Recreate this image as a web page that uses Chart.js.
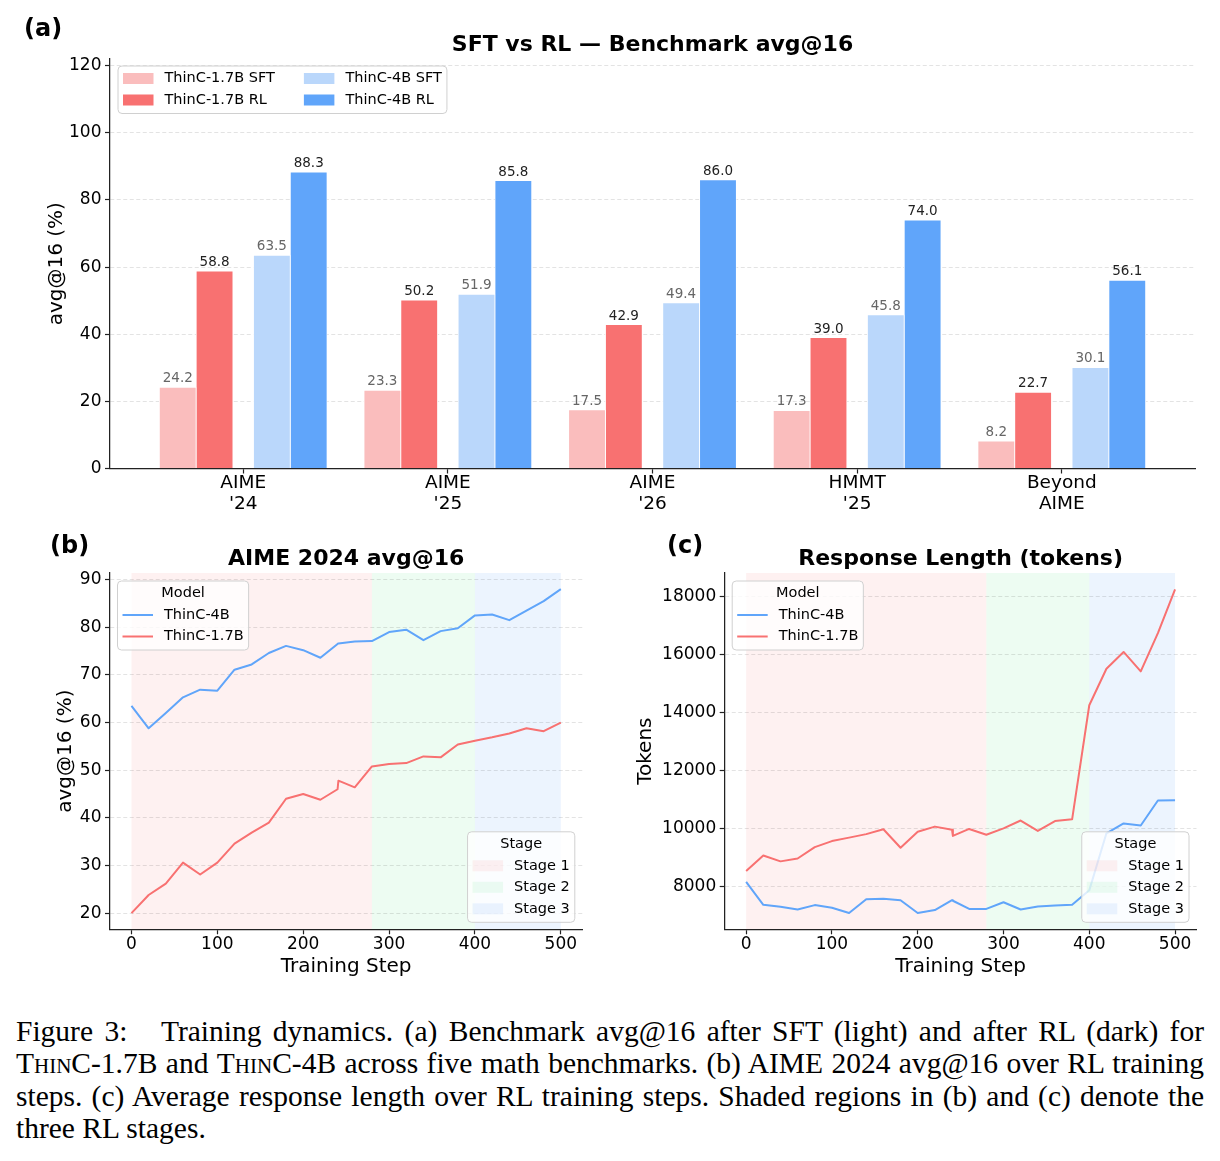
<!DOCTYPE html>
<html>
<head>
<meta charset="utf-8">
<script src="https://cdn.jsdelivr.net/npm/chart.js@4.4.0/dist/chart.umd.min.js"></script>
<style>
  body { margin: 0; background: #fff; }
  #page { position: relative; width: 1220px; height: 1161px; overflow: hidden; background: #fff; }
  canvas { position: absolute; }
  .panel { position: absolute; font: bold 24px "DejaVu Sans"; line-height: 28px; color: #000; }
  #caption {
    position: absolute; left: 16px; top: 1015px; width: 1188px;
    font-family: "Liberation Serif", "Times New Roman", serif;
    font-size: 29.5px; line-height: 32.4px; color: #000;
  }
  #caption .ln { text-align: justify; text-align-last: justify; }
  .sc { font-variant: small-caps; }
</style>
</head>
<body>
<div id="page">
  <canvas id="chartA" width="1220" height="525" style="left:0;top:0"></canvas>
  <canvas id="chartB" width="610" height="460" style="left:0;top:530px"></canvas>
  <canvas id="chartC" width="610" height="460" style="left:610px;top:530px"></canvas>
  <div class="panel" style="left:24px;top:14px">(a)</div>
  <div class="panel" style="left:50px;top:531px">(b)</div>
  <div class="panel" style="left:667px;top:531px">(c)</div>
  <div id="caption">
    <div class="ln">Figure 3:&nbsp;&nbsp; Training dynamics. (a) Benchmark avg@16 after SFT (light) and after RL (dark) for</div>
    <div class="ln"><span class="sc">ThinC</span>-1.7B and <span class="sc">ThinC</span>-4B across five math benchmarks. (b) AIME 2024 avg@16 over RL training</div>
    <div class="ln">steps. (c) Average response length over RL training steps. Shaded regions in (b) and (c) denote the</div>
    <div>three RL stages.</div>
  </div>
</div>
<script>
// (a) benchmark scores after SFT / RL
const benchmarks = [["AIME", "'24"], ["AIME", "'25"], ["AIME", "'26"], ["HMMT", "'25"], ["Beyond", "AIME"]];
const sft17 = [24.2, 23.3, 17.5, 17.3, 8.2];
const rl17 = [58.8, 50.2, 42.9, 39.0, 22.7];
const sft4 = [63.5, 51.9, 49.4, 45.8, 30.1];
const rl4 = [88.3, 85.8, 86.0, 74.0, 56.1];
const scoreTicks = [0, 20, 40, 60, 80, 100, 120];

// (b), (c) RL training curves
const steps = [0, 20, 40, 60, 80, 100, 120, 140, 160, 180, 200, 220, 240, 241, 260, 280, 300, 320, 340, 360, 380, 400, 420, 440, 460, 480, 500];
const aime4b = [63.5, 58.8, 62.0, 65.3, 66.9, 66.7, 71.1, 72.2, 74.6, 76.1, 75.2, 73.6, 76.5, 76.6, 77.0, 77.1, 79.0, 79.5, 77.3, 79.2, 79.8, 82.5, 82.7, 81.5, 83.5, 85.5, 88.0];
const aime17b = [20.0, 23.8, 26.2, 30.6, 28.1, 30.6, 34.6, 36.9, 39.0, 44.0, 45.0, 43.8, 46.0, 47.8, 46.4, 50.8, 51.3, 51.5, 52.9, 52.7, 55.4, 56.2, 56.9, 57.7, 58.8, 58.2, 60.0];
const len4b = [8150, 7360, 7290, 7200, 7350, 7260, 7080, 7550, 7570, 7520, 7080, 7180, 7520, 7500, 7220, 7220, 7450, 7200, 7300, 7340, 7360, 7860, 9830, 10170, 10100, 10960, 10970];
const len17b = [8530, 9065, 8860, 8960, 9350, 9560, 9680, 9800, 9970, 9330, 9880, 10060, 9950, 9740, 9980, 9780, 10000, 10270, 9910, 10250, 10310, 14250, 15510, 16090, 15420, 16740, 18250];
const stepTicks = [0, 100, 200, 300, 400, 500];
const aimeTicks = [20, 30, 40, 50, 60, 70, 80, 90];
const lenTicks = [8000, 10000, 12000, 14000, 16000, 18000];
const stages = ['Stage 1', 'Stage 2', 'Stage 3'];
const stageBounds = [0, 280, 400, 500];

const RED = '#F87171', RED_LIGHT = '#FABDBD', BLUE = '#60A5FA', BLUE_LIGHT = '#BAD7FB';
const stageColors = ['rgba(248,113,113,0.1)', 'rgba(74,222,128,0.1)', 'rgba(96,165,250,0.12)'];
const AXIS = '#222';
const GRID = 'rgba(0,0,0,0.14)';
const LEGEND_FONT = '14.5px "DejaVu Sans"';

Chart.defaults.font.family = '"DejaVu Sans"';
Chart.defaults.color = '#000';

// legend box like matplotlib (drawn inside the axes)
function drawLegendBox(chart, o) {
    const ctx = chart.ctx, area = chart.chartArea;
    const pad = 5, handleW = 30.5, gap = 11, colGap = 29, rowH = 21.5;
    ctx.save();
    ctx.font = LEGEND_FONT;
    const colW = o.columns.map(col => Math.max(...col.map(it => ctx.measureText(it.label).width)));
    let inner = colW.reduce((s, w) => s + handleW + gap + w, 0) + colGap * (colW.length - 1);
    if (o.title) inner = Math.max(inner, ctx.measureText(o.title).width);
    const w = inner + 2 * pad;
    const rows = Math.max(...o.columns.map(c => c.length));
    const head = o.title ? rowH : 0;
    const h = 12.5 + head + (rows - 1) * rowH + 13.5;
    const left = o.corner === 'tl' ? area.left + o.dx : area.right - o.dx - w;
    const top = o.corner === 'tl' ? area.top + o.dy : area.bottom - o.dy - h;

    ctx.beginPath();
    ctx.roundRect(left, top, w, h, 4);
    ctx.fillStyle = 'rgba(255,255,255,0.8)';
    ctx.fill();
    ctx.strokeStyle = '#d0d0d0';
    ctx.lineWidth = 1;
    ctx.stroke();

    ctx.textBaseline = 'middle';
    ctx.fillStyle = '#000';
    if (o.title) {
        ctx.textAlign = 'center';
        ctx.fillText(o.title, left + w / 2, top + 12.5);
    }
    ctx.textAlign = 'left';
    let x = left + pad;
    o.columns.forEach((col, ci) => {
        col.forEach((it, ri) => {
            const y = top + 12.5 + head + ri * rowH;
            if (o.handle === 'line') {
                ctx.strokeStyle = it.color;
                ctx.lineWidth = 2;
                ctx.beginPath();
                ctx.moveTo(x, y);
                ctx.lineTo(x + handleW, y);
                ctx.stroke();
            } else {
                ctx.fillStyle = it.color;
                ctx.fillRect(x, y - 5.5, handleW, 11);
            }
            ctx.fillStyle = '#000';
            ctx.fillText(it.label, x + handleW + gap, y);
        });
        x += handleW + gap + colW[ci] + colGap;
    });
    ctx.restore();
}

// ---------- (a) grouped bars ----------
const barOffsets = [-0.32, -0.14, 0.14, 0.32];
function barSeries(vals, k) {
    return vals.map((v, i) => ({x: i + barOffsets[k], y: v}));
}

const barDatasets = [
    {label: 'ThinC-1.7B SFT', data: barSeries(sft17, 0), backgroundColor: RED_LIGHT, labelColor: '#666'},
    {label: 'ThinC-1.7B RL', data: barSeries(rl17, 1), backgroundColor: RED, labelColor: '#222'},
    {label: 'ThinC-4B SFT', data: barSeries(sft4, 2), backgroundColor: BLUE_LIGHT, labelColor: '#666'},
    {label: 'ThinC-4B RL', data: barSeries(rl4, 3), backgroundColor: BLUE, labelColor: '#222'}
];

const barValueLabels = {
    id: 'barValueLabels',
    afterDatasetsDraw(chart) {
        const ctx = chart.ctx;
        ctx.save();
        ctx.font = '13.5px "DejaVu Sans"';
        ctx.textAlign = 'center';
        ctx.textBaseline = 'alphabetic';
        chart.data.datasets.forEach((ds, di) => {
            ctx.fillStyle = ds.labelColor;
            chart.getDatasetMeta(di).data.forEach((bar, i) => {
                ctx.fillText(ds.data[i].y.toFixed(1), bar.x, bar.y - 5);
            });
        });
        ctx.restore();
    }
};

const barLegend = {
    id: 'barLegend',
    afterDraw(chart) {
        const ds = chart.data.datasets;
        const item = d => ({label: d.label, color: d.backgroundColor});
        drawLegendBox(chart, {
            corner: 'tl', dx: 8, dy: 7, handle: 'patch',
            columns: [[item(ds[0]), item(ds[1])], [item(ds[2]), item(ds[3])]]
        });
    }
};

new Chart(document.getElementById('chartA'), {
    type: 'bar',
    data: {datasets: barDatasets},
    options: {
        responsive: false,
        animation: false,
        grouped: false,
        barPercentage: 1,
        categoryPercentage: 1,
        borderColor: '#fff',
        borderWidth: 0.8,
        layout: {padding: {left: 0, right: 25, top: 0, bottom: 0}},
        plugins: {
            legend: {display: false},
            tooltip: {enabled: false},
            title: {
                display: true, fullSize: false,
                text: 'SFT vs RL — Benchmark avg@16',
                font: {size: 22, weight: 'bold'},
                padding: {top: 32.5, bottom: 0.1}
            }
        },
        scales: {
            x: {
                type: 'linear', min: -0.651, max: 4.651, offset: false,
                afterBuildTicks: s => { s.ticks = benchmarks.map((b, i) => ({value: i})); },
                afterFit: s => { s.height = 56.5; },
                ticks: {
                    callback: v => benchmarks[v],
                    font: {size: 18.5, lineHeight: 1.1},
                    padding: 0, maxRotation: 0
                },
                grid: {offset: false, drawOnChartArea: false, tickLength: 5, tickColor: AXIS, tickWidth: 1.2},
                border: {color: AXIS, width: 1.25}
            },
            y: {
                min: 0, max: 122,
                afterBuildTicks: s => { s.ticks = scoreTicks.map(v => ({value: v})); },
                afterFit: s => { s.width = 110; },
                ticks: {font: {size: 17}, padding: 3.5},
                title: {display: true, text: 'avg@16 (%)', font: {size: 20}, padding: {top: 45, bottom: 0}},
                grid: {color: GRID, lineWidth: 0.8, tickLength: 5, tickColor: AXIS, tickWidth: 1.2},
                border: {color: AXIS, width: 1.25, dash: [4, 2.5]}
            }
        }
    },
    plugins: [barValueLabels, barLegend]
});

// ---------- (b), (c) training curves ----------
const stageBands = {
    id: 'stageBands',
    beforeDraw(chart) {
        const {ctx, chartArea: a, scales: {x}} = chart;
        ctx.save();
        stages.forEach((s, i) => {
            const x0 = x.getPixelForValue(stageBounds[i]);
            const x1 = x.getPixelForValue(stageBounds[i + 1]);
            ctx.fillStyle = stageColors[i];
            ctx.fillRect(x0, a.top, x1 - x0, a.bottom - a.top);
        });
        ctx.restore();
    }
};

const curveLegends = {
    id: 'curveLegends',
    afterDraw(chart) {
        drawLegendBox(chart, {
            corner: 'tl', dx: 7.5, dy: 8, handle: 'line', title: 'Model',
            columns: [chart.data.datasets.map(d => ({label: d.label, color: d.borderColor}))]
        });
        drawLegendBox(chart, {
            corner: 'br', dx: 7.5, dy: 7, handle: 'patch', title: 'Stage',
            columns: [stages.map((s, i) => ({label: s, color: stageColors[i]}))]
        });
    }
};

function curveChart(id, title, yTitle, vals4b, vals17b, yMin, yMax, yTicks, yWidth, yTitlePad, padRight) {
    const toPoints = vals => steps.map((s, i) => ({x: s, y: vals[i]}));
    return new Chart(document.getElementById(id), {
        type: 'line',
        data: {
            datasets: [
                {label: 'ThinC-4B', data: toPoints(vals4b), borderColor: BLUE},
                {label: 'ThinC-1.7B', data: toPoints(vals17b), borderColor: RED}
            ]
        },
        options: {
            responsive: false,
            animation: false,
            elements: {
                line: {borderWidth: 2, tension: 0, fill: false, borderJoinStyle: 'round'},
                point: {radius: 0}
            },
            layout: {padding: {left: 0, right: padRight, top: 0, bottom: 0}},
            plugins: {
                legend: {display: false},
                tooltip: {enabled: false},
                title: {
                    display: true, fullSize: false, text: title,
                    font: {size: 22, weight: 'bold'},
                    padding: {top: 16.5, bottom: 0.1}
                }
            },
            scales: {
                x: {
                    type: 'linear', min: -25, max: 525,
                    afterBuildTicks: s => { s.ticks = stepTicks.map(v => ({value: v})); },
                    afterFit: s => { s.height = 60.7; },
                    ticks: {font: {size: 17}, padding: 0, maxRotation: 0, callback: v => String(v)},
                    title: {display: true, text: 'Training Step', font: {size: 20}, padding: {top: 0, bottom: 11}},
                    grid: {drawOnChartArea: false, tickLength: 5, tickColor: AXIS, tickWidth: 1.2},
                    border: {color: AXIS, width: 1.25}
                },
                y: {
                    min: yMin, max: yMax,
                    afterBuildTicks: s => { s.ticks = yTicks.map(v => ({value: v})); },
                    afterFit: s => { s.width = yWidth; },
                    ticks: {font: {size: 17}, padding: 3.5, callback: v => String(v)},
                    title: {display: true, text: yTitle, font: {size: 20}, padding: {top: yTitlePad, bottom: 0}},
                    grid: {color: GRID, lineWidth: 0.8, tickLength: 5, tickColor: AXIS, tickWidth: 1.2},
                    border: {color: AXIS, width: 1.25, dash: [4, 2.5]}
                }
            }
        },
        plugins: [stageBands, curveLegends]
    });
}

curveChart('chartB', 'AIME 2024 avg@16', 'avg@16 (%)', aime4b, aime17b, 16.6, 91.4, aimeTicks, 110, 54, 27.7);
curveChart('chartC', 'Response Length (tokens)', 'Tokens', len4b, len17b, 6515, 18815, lenTicks, 114.7, 24, 23.5);
</script>
</body>
</html>
